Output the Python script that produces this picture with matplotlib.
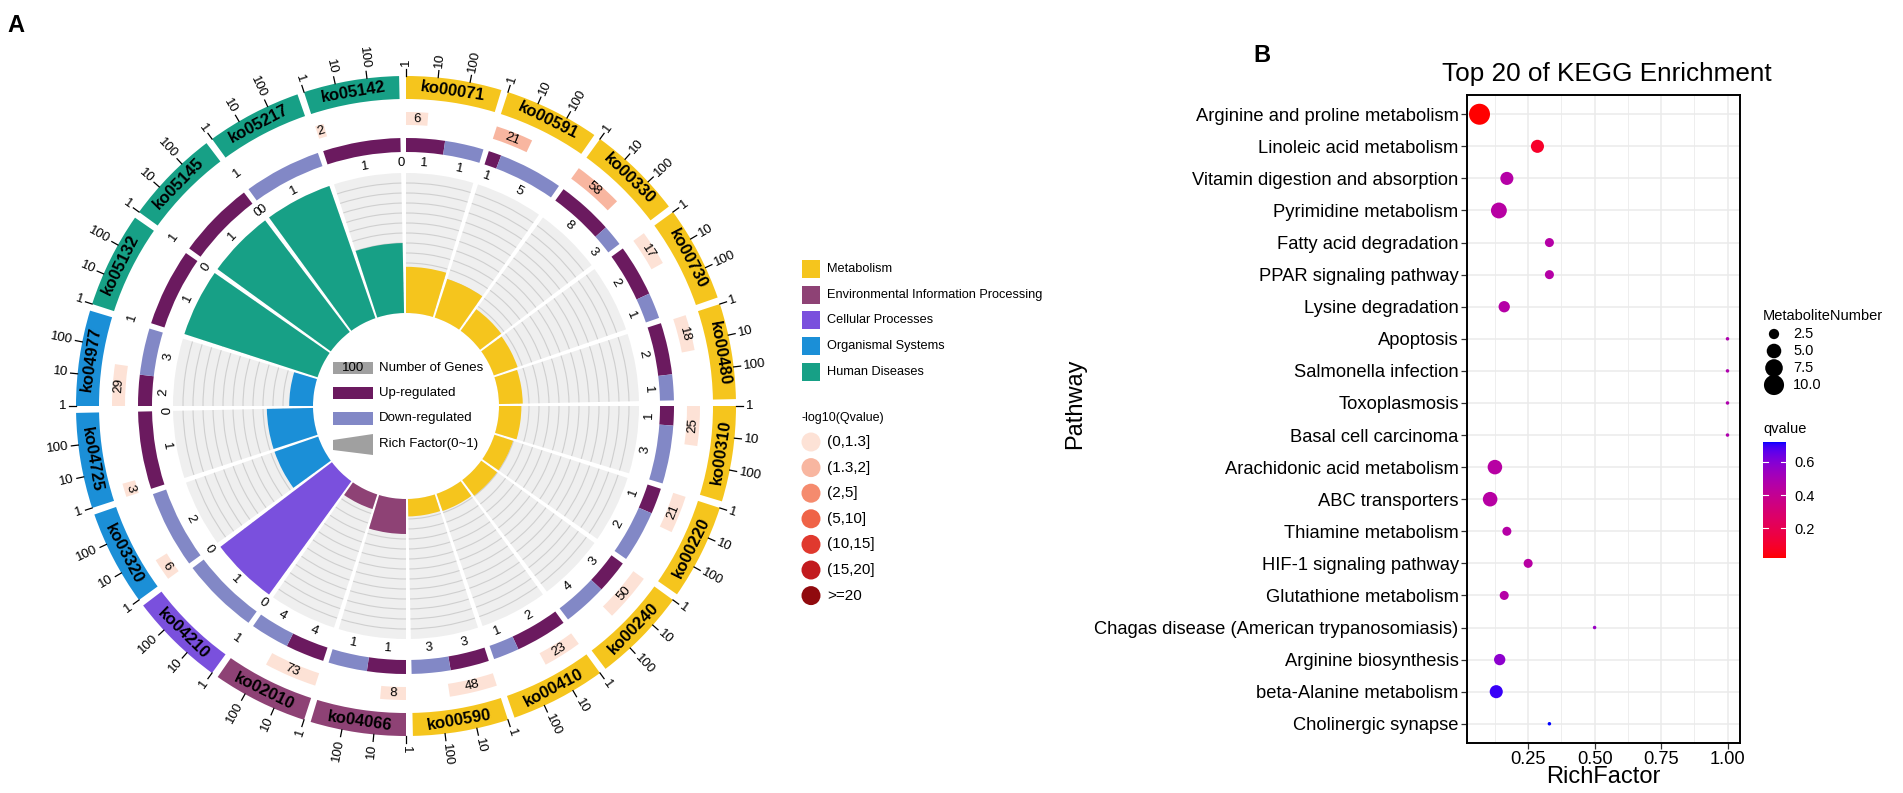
import numpy as np
import matplotlib
matplotlib.use("Agg")
import matplotlib.pyplot as plt
from matplotlib.patches import Wedge, Rectangle, Circle, Polygon, Arc
from matplotlib.colors import ListedColormap, Normalize

plt.rcParams['font.family'] = ['Liberation Sans', 'DejaVu Sans']

W, H = 1903, 793

# ---------------- panel A data ----------------
ko_ids = ['ko00071', 'ko00591', 'ko00330', 'ko00730', 'ko00480', 'ko00310', 'ko00220',
          'ko00240', 'ko00410', 'ko00590', 'ko04066', 'ko02010', 'ko04210', 'ko03320',
          'ko04725', 'ko04977', 'ko05132', 'ko05145', 'ko05217', 'ko05142']
ko_class = ['Metabolism', 'Metabolism', 'Metabolism', 'Metabolism', 'Metabolism',
            'Metabolism', 'Metabolism', 'Metabolism', 'Metabolism', 'Metabolism',
            'Environmental Information Processing', 'Environmental Information Processing',
            'Cellular Processes', 'Organismal Systems', 'Organismal Systems',
            'Organismal Systems', 'Human Diseases', 'Human Diseases', 'Human Diseases',
            'Human Diseases']
gene_num = [6, 21, 58, 17, 18, 25, 21, 50, 23, 48, 8, 73, 1, 6, 3, 29, 1, 1, 1, 2]
q_level = [0, 1, 1, 0, 0, 0, 0, 0, 0, 0, 0, 0, 0, 0, 0, 0, 0, 0, 0, 0]
up_num = [1, 1, 8, 2, 2, 1, 1, 3, 2, 3, 1, 4, 0, 0, 1, 2, 1, 1, 0, 1]
down_num = [1, 5, 3, 1, 1, 3, 2, 4, 1, 3, 1, 4, 1, 2, 0, 3, 0, 0, 1, 0]
rich_factor = [0.33, 0.29, 0.19, 0.18, 0.17, 0.16, 0.14, 0.14, 0.13, 0.125,
               0.25, 0.11, 1.0, 0.33, 0.33, 0.17, 1.0, 1.0, 1.0, 0.5]

class_names = ['Metabolism', 'Environmental Information Processing', 'Cellular Processes',
               'Organismal Systems', 'Human Diseases']
class_colors = ['#F5C51D', '#8E4275', '#7A50DD', '#1B8FD7', '#17A086']
q_bins = ['(0,1.3]', '(1.3,2]', '(2,5]', '(5,10]', '(10,15]', '(15,20]', '>=20']
q_colors = ['#FDE2D6', '#F8B6A0', '#F58B6E', '#EF6347', '#E0392E', '#C21A1E', '#900A0E']
up_color = '#6B1A5F'
down_color = '#8288C6'

# ---------------- panel B data ----------------
kegg_terms = ['Arginine and proline metabolism', 'Linoleic acid metabolism',
              'Vitamin digestion and absorption', 'Pyrimidine metabolism',
              'Fatty acid degradation', 'PPAR signaling pathway', 'Lysine degradation',
              'Apoptosis', 'Salmonella infection', 'Toxoplasmosis', 'Basal cell carcinoma',
              'Arachidonic acid metabolism', 'ABC transporters', 'Thiamine metabolism',
              'HIF-1 signaling pathway', 'Glutathione metabolism',
              'Chagas disease (American trypanosomiasis)', 'Arginine biosynthesis',
              'beta-Alanine metabolism', 'Cholinergic synapse']
kegg_rich = [0.067, 0.285, 0.17, 0.14, 0.33, 0.33, 0.16, 1.0, 1.0, 1.0, 1.0,
             0.125, 0.107, 0.17, 0.25, 0.16, 0.5, 0.143, 0.13, 0.33]
kegg_q = [0.02, 0.09, 0.46, 0.45, 0.46, 0.46, 0.46, 0.48, 0.48, 0.48, 0.48,
          0.45, 0.45, 0.46, 0.45, 0.46, 0.55, 0.58, 0.70, 0.72]
kegg_num = [11, 4, 4, 6, 2, 2, 3, 1, 1, 1, 1, 5, 5, 2, 2, 2, 1, 3, 4, 1]
size_breaks = [2.5, 5.0, 7.5, 10.0]
q_ticks = [0.2, 0.4, 0.6]


# red -> blue gradient interpolated in Lab, like ggplot
M = np.array([[0.4124, 0.3576, 0.1805], [0.2126, 0.7152, 0.0722], [0.0193, 0.1192, 0.9505]])
WHITE = M @ np.ones(3)

def to_lab(rgb):
    c = np.asarray(rgb, float)
    lin = np.where(c <= 0.04045, c / 12.92, ((c + 0.055) / 1.055) ** 2.4)
    xyz = M @ lin / WHITE
    f = np.where(xyz > (6 / 29) ** 3, np.cbrt(xyz), xyz / (3 * (6 / 29) ** 2) + 4 / 29)
    return np.array([116 * f[1] - 16, 500 * (f[0] - f[1]), 200 * (f[1] - f[2])])

def to_rgb(lab):
    L, a, b = lab
    fy = (L + 16) / 116
    f = np.array([fy + a / 500, fy, fy - b / 200])
    xyz = np.where(f > 6 / 29, f ** 3, 3 * (6 / 29) ** 2 * (f - 4 / 29)) * WHITE
    lin = np.clip(np.linalg.solve(M, xyz), 0, 1)
    return np.where(lin <= 0.0031308, 12.92 * lin, 1.055 * lin ** (1 / 2.4) - 0.055)

lab_r, lab_b = to_lab([1, 0, 0]), to_lab([0, 0, 1])
cmap = ListedColormap([to_rgb(lab_r + t * (lab_b - lab_r)) for t in np.linspace(0, 1, 256)])
qnorm = Normalize(0.02, 0.72)

def dot_pts(n):
    px = 3.5 * (1 + 5 * np.sqrt((np.asarray(n, float) - 1) / 10.0))
    return (px * 0.72) ** 2


fig = plt.figure(figsize=(W / 100, H / 100), dpi=100)
ax = fig.add_axes([0, 0, 1, 1])
ax.set_xlim(0, W)
ax.set_ylim(0, H)
ax.axis('off')

def Y(y):
    return H - y

cx, cy = 406, Y(406)
SEC, SPAN = 18.0, 16.8
LOGU = SPAN / 3

def polar(r, a):
    return cx + r * np.cos(np.radians(a)), cy + r * np.sin(np.radians(a))

def tang_rot(a):
    a = a % 360
    return a - 90 if a <= 180 else a - 270

def tang_text(r, a, s, **kw):
    x, y = polar(r, a)
    ax.text(x, y, s, rotation=tang_rot(a), ha='center', va='center',
            rotation_mode='anchor', **kw)

def radial_text(r, a, s, **kw):
    a = a % 360
    x, y = polar(r, a)
    if np.cos(np.radians(a)) >= -1e-9:
        rot, ha = (a if a <= 90 else a - 360), 'left'
    else:
        rot, ha = a - 180, 'right'
    ax.text(x, y, s, rotation=rot, ha=ha, va='center', rotation_mode='anchor', **kw)

for i, ko in enumerate(ko_ids):
    a0 = 90 - SEC * i
    a1 = a0 - SPAN
    col = class_colors[class_names.index(ko_class[i])]

    # outer class band
    ax.add_patch(Wedge((cx, cy), 330, a1, a0, width=23, facecolor=col, edgecolor='none'))
    tang_text(318.5, (a0 + a1) / 2, ko, fontsize=12, fontweight='bold')
    for v, lab in zip([0, 1, 2], ['1', '10', '100']):
        a = a0 - v * LOGU
        p1, p2 = polar(330, a), polar(337, a)
        ax.plot([p1[0], p2[0]], [p1[1], p2[1]], color='black', lw=0.9)
        radial_text(340, a, lab, fontsize=9.5)

    # gene number box coloured by -log10(q)
    n = gene_num[i]
    aq = a0 - np.log10(n) * LOGU
    if n > 1:
        ax.add_patch(Wedge((cx, cy), 294, aq, a0, width=13,
                           facecolor=q_colors[q_level[i]], edgecolor='none'))
    tang_text(287.5, (a0 + aq) / 2, str(n), fontsize=9.5)

    # up / down regulated
    tot = up_num[i] + down_num[i]
    asp = a0 - SPAN * up_num[i] / tot
    ax.add_patch(Wedge((cx, cy), 268, asp, a0, width=14, facecolor=up_color, edgecolor='none'))
    ax.add_patch(Wedge((cx, cy), 268, a1, asp, width=14, facecolor=down_color, edgecolor='none'))
    tang_text(243, (a0 + asp) / 2, str(up_num[i]), fontsize=9.5)
    tang_text(243, (asp + a1) / 2, str(down_num[i]), fontsize=9.5)

    # rich factor
    ax.add_patch(Wedge((cx, cy), 233, a1, a0, width=140, facecolor='#EFEFEF', edgecolor='none'))
    for k in range(1, 14):
        r = 93 + 10 * k
        ax.add_patch(Arc((cx, cy), 2 * r, 2 * r, theta1=a1, theta2=a0, color='#CFCFCF', lw=0.8))
    h = 140 * rich_factor[i]
    ax.add_patch(Wedge((cx, cy), 93 + h, a1, a0, width=h, facecolor=col, edgecolor='none'))

# centre legend
ax.add_patch(Rectangle((333, Y(374)), 40, 12, facecolor='#A0A0A0', edgecolor='none'))
ax.text(353, Y(368), '100', fontsize=9.5, ha='center', va='center')
ax.add_patch(Rectangle((333, Y(399)), 40, 12, facecolor=up_color, edgecolor='none'))
ax.add_patch(Rectangle((333, Y(425)), 40, 13, facecolor=down_color, edgecolor='none'))
ax.add_patch(Polygon([(333, Y(440)), (373, Y(434)), (373, Y(455)), (333, Y(450))],
                     closed=True, facecolor='#A0A0A0', edgecolor='none'))
for yy, s in zip([368, 393, 418, 444],
                 ['Number of Genes', 'Up-regulated', 'Down-regulated', 'Rich Factor(0~1)']):
    ax.text(379, Y(yy), s, fontsize=9.5, ha='left', va='center')

# right legend of panel A
for k, (name, col) in enumerate(zip(class_names, class_colors)):
    yy = 269 + 25.7 * k
    ax.add_patch(Rectangle((802, Y(yy + 9)), 18, 18, facecolor=col, edgecolor='none'))
    ax.text(827, Y(yy), name, fontsize=9.2, ha='left', va='center')
ax.text(801, Y(418), '-log10(Qvalue)', fontsize=9, ha='left', va='center')
for k, (lab, col) in enumerate(zip(q_bins, q_colors)):
    yy = 442 + 25.6 * k
    ax.add_patch(Circle((811, Y(yy)), 9.5, facecolor=col, edgecolor='none'))
    ax.text(827, Y(yy), lab, fontsize=11, ha='left', va='center')

ax.text(16, Y(26), 'A', fontsize=17, fontweight='bold', ha='center', va='center')
ax.text(1262, Y(55), 'B', fontsize=17, fontweight='bold', ha='center', va='center')

# ---------------- panel B ----------------
XL, XR = 1467, 1740
axB = fig.add_axes([XL / W, (H - 743) / H, (XR - XL) / W, (743 - 95) / H])
ypos = np.arange(len(kegg_terms))[::-1] + 1
axB.set_xlim(0.02, 1.047)
axB.set_ylim(0.4, len(kegg_terms) + 0.6)
axB.set_xticks([0.25, 0.5, 0.75, 1.0])
axB.set_xticklabels(['0.25', '0.50', '0.75', '1.00'])
axB.set_xticks([0.125, 0.375, 0.625, 0.875], minor=True)
axB.set_yticks(ypos)
axB.set_yticklabels(kegg_terms)
axB.grid(True, which='major', color='#EBEBEB', lw=1.1, zorder=0)
axB.grid(True, which='minor', axis='x', color='#EBEBEB', lw=0.6, zorder=0)
axB.set_axisbelow(True)
axB.tick_params(axis='both', which='major', labelsize=13.2, length=4, width=0.9,
                color='#333333', pad=2)
axB.tick_params(axis='x', which='minor', length=0)
for sp in axB.spines.values():
    sp.set_color('black')
    sp.set_linewidth(1.4)
axB.scatter(kegg_rich, ypos, s=dot_pts(kegg_num), c=kegg_q, cmap=cmap, norm=qnorm,
            edgecolors='none', zorder=3)

xc = (XL + XR) / 2
ax.text(xc + 3, Y(74), 'Top 20 of KEGG Enrichment', fontsize=18.8, ha='center', va='center')
ax.text(xc, Y(777), 'RichFactor', fontsize=17, ha='center', va='center')
ax.text(1075, Y(404), 'Pathway', fontsize=17, rotation=90, ha='center', va='center')

# size legend
LX = 1763
ax.text(LX, Y(316), 'MetaboliteNumber', fontsize=10.5, ha='left', va='center')
leg_y = [334, 351, 368, 385]
ax.scatter([LX + 11] * len(size_breaks), [Y(v) for v in leg_y], s=dot_pts(size_breaks),
           color='black', edgecolors='none')
for v, b in zip(leg_y, size_breaks):
    ax.text(LX + 30, Y(v), f'{b:.1f}', fontsize=10.5, ha='left', va='center')

# colour bar
ax.text(LX, Y(429), 'qvalue', fontsize=10.5, ha='left', va='center')
cax = fig.add_axes([LX / W, (H - 558) / H, 23 / W, 116 / H])
grad = np.linspace(0.02, 0.72, 256).reshape(-1, 1)
cax.imshow(grad, aspect='auto', cmap=cmap, norm=qnorm, origin='lower',
           extent=[0, 1, 0.02, 0.72])
for v in q_ticks:
    cax.plot([0, 0.2], [v, v], color='white', lw=0.8)
    cax.plot([0.8, 1], [v, v], color='white', lw=0.8)
cax.set_xlim(0, 1)
cax.set_ylim(0.02, 0.72)
cax.set_xticks([])
cax.yaxis.tick_right()
cax.set_yticks(q_ticks)
cax.set_yticklabels([f'{v:.1f}' for v in q_ticks])
cax.tick_params(axis='y', length=0, labelsize=10.5, pad=6)
for sp in cax.spines.values():
    sp.set_visible(False)

fig.savefig('out.png', dpi=100)
